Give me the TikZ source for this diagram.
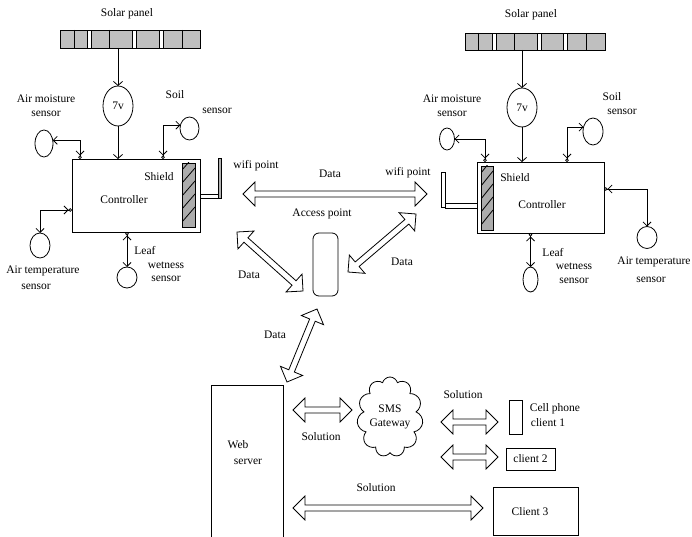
\documentclass[tikz,border=0pt]{standalone}
\usepackage{fontspec}
\setmainfont{Liberation Serif}
\usetikzlibrary{arrows.meta,calc,shapes.geometric,shapes.symbols}

\tikzset{
  box/.style={draw,line width=0.8pt,inner sep=0pt,outer sep=0pt},
  panel/.style={box,fill=gray!50},
  sensor/.style={ellipse,draw,line width=0.8pt,inner sep=0pt,outer sep=0pt},
  feed/.style={line width=0.8pt,-{Straight Barb[length=4pt,width=9pt]}},
  probe/.style={line width=0.8pt,{Circle[open,length=3.5pt,width=3.5pt]Straight Barb[length=4pt,width=8pt]}-{Straight Barb[length=4pt,width=8pt]}},
  txt/.style={inner sep=0pt,align=center,font=\fontsize{11.5}{13.5}\selectfont},
}

% hollow double arrow between two named points
\newcommand\dataflow[2]{%
  \draw[line width=0.8pt] (#1)
    -- ($(#1)!12pt!(#2)!12pt!-90:(#2)$) -- ($(#1)!12pt!(#2)!3pt!-90:(#2)$)
    -- ($(#2)!12pt!(#1)!3pt!90:(#1)$) -- ($(#2)!12pt!(#1)!12pt!90:(#1)$)
    -- (#2)
    -- ($(#2)!12pt!(#1)!12pt!-90:(#1)$) -- ($(#2)!12pt!(#1)!3pt!-90:(#1)$)
    -- ($(#1)!12pt!(#2)!3pt!90:(#2)$) -- ($(#1)!12pt!(#2)!12pt!90:(#2)$)
    -- cycle;}

\begin{document}
\begin{tikzpicture}[x=1pt,y=-1pt]
  \useasboundingbox (0,0) rectangle (692,537);

  % left station: solar panel and 7v
  \node[txt] (lpaneltext) at (127,14) {Solar panel};
  \node[panel,minimum width=140pt,minimum height=18pt] (lpanel) at (130,39) {};
  \foreach \sx in {89.5,134,161} \draw[line width=0.6pt,fill=white] (\sx-2,30) rectangle (\sx+2,48);
  \foreach \sx in {74,109,182} \draw[line width=1pt] (\sx,30) -- (\sx,48);
  \node[sensor,minimum width=30pt,minimum height=40pt,txt] (lvolt) at (118,106) {7v};
  \draw[feed] (lvolt |- lpanel.south) -- (lvolt.north);

  % left controller with shield
  \node[box,minimum width=128pt,minimum height=73pt] (lctrl) at (136,195.5) {};
  \node[txt] (lctrltext) at (124,200) {Controller};
  \node[box,fill=gray!65,minimum width=13pt,minimum height=64pt] (lshield) at (188.5,195) {};
  \begin{scope}
    \clip (lshield.south west) rectangle (lshield.north east);
    \foreach \k in {0,...,4} \draw[line width=0.8pt] ($(lshield.south west)+(0,-5-13*\k)$) -- ++(13,-15);
  \end{scope}
  \node[txt] (lshieldtext) at (159,177) {Shield};
  \draw[feed] (lvolt.south) -- (lvolt |- lctrl.north);

  % left wifi antenna
  \node[box,fill=white,minimum width=18pt,minimum height=4pt] (lwire) at (209,196) {};
  \node[box,fill=gray!60,minimum width=3pt,minimum height=40pt] (lmast) at (219.5,178) {};
  \node[txt] (lwifi) at (256,166) {wifi point};

  % left sensors
  \node[sensor,minimum width=18pt,minimum height=27pt] (lmoist) at (44,143.5) {};
  \node[txt] (lmoisttext) at (46,106) {Air moisture\\sensor};
  \draw[probe] ([xshift=-56pt]lctrl.north) |- (lmoist.20);
  \node[sensor,minimum width=19pt,minimum height=23pt] (lsoil) at (189.5,128.5) {};
  \node[txt] (lsoiltext) at (175,95) {Soil};
  \node[txt] (lsoiltext2) at (217,111) {sensor};
  \draw[probe] ([xshift=27pt]lctrl.north) |- (lsoil.160);
  \node[sensor,minimum width=20pt,minimum height=25pt] (ltemp) at (40,245.5) {};
  \node[txt] (ltemptext) at (43,271) {Air temperature};
  \node[txt] (ltemptext2) at (36,287) {sensor};
  \draw[probe] ([yshift=-14.5pt]lctrl.west) -| (ltemp.north);
  \node[sensor,minimum width=20pt,minimum height=21pt] (lleaf) at (127,277.5) {};
  \node[txt] (lleaftext) at (145,251) {Leaf};
  \node[txt] (lleaftext2) at (166,272) {wetness\\sensor};
  \draw[probe] (lleaf.north |- lctrl.south) -- (lleaf.north);

  % right station: solar panel and 7v
  \node[txt] (rpaneltext) at (531,15) {Solar panel};
  \node[panel,minimum width=140pt,minimum height=17pt] (rpanel) at (535,41.5) {};
  \foreach \sx in {494.5,539,565.5} \draw[line width=0.6pt,fill=white] (\sx-2,33) rectangle (\sx+2,50);
  \foreach \sx in {478,514.5,586} \draw[line width=1pt] (\sx,33) -- (\sx,50);
  \node[sensor,minimum width=30pt,minimum height=39pt,txt] (rvolt) at (522,107.5) {7v};
  \draw[feed] (rvolt |- rpanel.south) -- (rvolt.north);

  % right controller with shield
  \node[box,minimum width=127pt,minimum height=71pt] (rctrl) at (540.5,197.5) {};
  \node[txt] (rctrltext) at (542,205) {Controller};
  \node[box,fill=gray!65,minimum width=12pt,minimum height=64pt] (rshield) at (487,198) {};
  \begin{scope}
    \clip (rshield.south west) rectangle (rshield.north east);
    \foreach \k in {0,...,4} \draw[line width=0.8pt] ($(rshield.south west)+(0,-5-13*\k)$) -- ++(12,-15);
  \end{scope}
  \node[txt] (rshieldtext) at (515,178) {Shield};
  \draw[feed] (rvolt.south) -- (rvolt |- rctrl.north);

  % right wifi antenna
  \node[box,fill=white,minimum width=32pt,minimum height=5pt] (rwire) at (461,205.5) {};
  \node[box,fill=white,minimum width=4pt,minimum height=35pt] (rmast) at (443,189.5) {};
  \node[txt] (rwifi) at (408,173) {wifi point};

  % right sensors
  \node[sensor,minimum width=15pt,minimum height=22pt] (rmoist) at (447,139) {};
  \node[txt] (rmoisttext) at (452,106) {Air moisture\\sensor};
  \draw[probe] ([xshift=-55.5pt]rctrl.north) |- (rmoist.east);
  \node[sensor,minimum width=20pt,minimum height=27pt] (rsoil) at (593,131.5) {};
  \node[txt] (rsoiltext) at (612,97) {Soil};
  \node[txt] (rsoiltext2) at (622,112) {sensor};
  \draw[probe] ([xshift=26.5pt]rctrl.north) |- (rsoil.155);
  \node[sensor,minimum width=20pt,minimum height=22pt] (rtemp) at (647,237.5) {};
  \node[txt] (rtemptext) at (654,262) {Air temperature};
  \node[txt] (rtemptext2) at (651,280) {sensor};
  \draw[probe] ([yshift=8.5pt]rctrl.east) -| (rtemp.north);
  \node[sensor,minimum width=15pt,minimum height=25pt] (rleaf) at (530.5,279.5) {};
  \node[txt] (rleaftext) at (553,253) {Leaf};
  \node[txt] (rleaftext2) at (574,273.5) {wetness\\sensor};
  \draw[probe] (rleaf.north |- rctrl.south) -- (rleaf.north);

  % access point and data links
  \node[box,rounded corners=6pt,minimum width=25pt,minimum height=63pt] (ap) at (325.5,264.5) {};
  \node[txt] (aptext) at (322,214) {Access point};
  \coordinate (wifiL) at (243,194);
  \coordinate (wifiR) at (427,194);
  \dataflow{wifiL}{wifiR}
  \node[txt] (datatop) at (330,174) {Data};
  \coordinate (apL1) at (237,232);
  \coordinate (apL2) at (303,291);
  \dataflow{apL1}{apL2}
  \node[txt] (dataleft) at (249,275) {Data};
  \coordinate (apR1) at (348,272);
  \coordinate (apR2) at (416,214);
  \dataflow{apR1}{apR2}
  \node[txt] (dataright) at (402,262) {Data};

  % web server
  \node[box,minimum width=72pt,minimum height=160pt] (web) at (247,465) {};
  \node[txt] (webtext) at (238,445) {Web};
  \node[txt] (webtext2) at (248,462) {server};
  \coordinate (webtop) at (287,382);
  \coordinate (apbot) at (317,309);
  \dataflow{webtop}{apbot}
  \node[txt] (datadown) at (275,335) {Data};

  % sms gateway and clients
  \node[cloud,draw,line width=0.8pt,cloud puffs=11,cloud ignores aspect,minimum width=66pt,minimum height=80pt,inner sep=0pt,txt] (sms) at (390,417) {SMS\\Gateway};
  \coordinate (webR) at (293,410);
  \coordinate (smsL) at (352,410);
  \dataflow{webR}{smsL}
  \node[txt] (sol1) at (321,437) {Solution};
  \node[box,minimum width=13pt,minimum height=34pt] (phone) at (515.5,417) {};
  \node[txt] (phonetext) at (555,409) {Cell phone};
  \node[txt] (phonetext2) at (548,423) {client 1};
  \node[box,minimum width=49pt,minimum height=22pt,txt] (client2) at (530.5,459) {client 2};
  \node[box,minimum width=85pt,minimum height=48pt] (client3) at (535.5,511) {};
  \node[txt] (client3text) at (530,512) {Client 3};
  \coordinate (smsA) at (441,422);
  \coordinate (phoneA) at (498,422);
  \dataflow{smsA}{phoneA}
  \node[txt] (sol2) at (463,395) {Solution};
  \coordinate (smsB) at (441,457);
  \coordinate (client2A) at (498,457);
  \dataflow{smsB}{client2A}
  \coordinate (webB) at (293,508);
  \coordinate (client3A) at (483,508);
  \dataflow{webB}{client3A}
  \node[txt] (sol3) at (376,488) {Solution};

\end{tikzpicture}
\end{document}
